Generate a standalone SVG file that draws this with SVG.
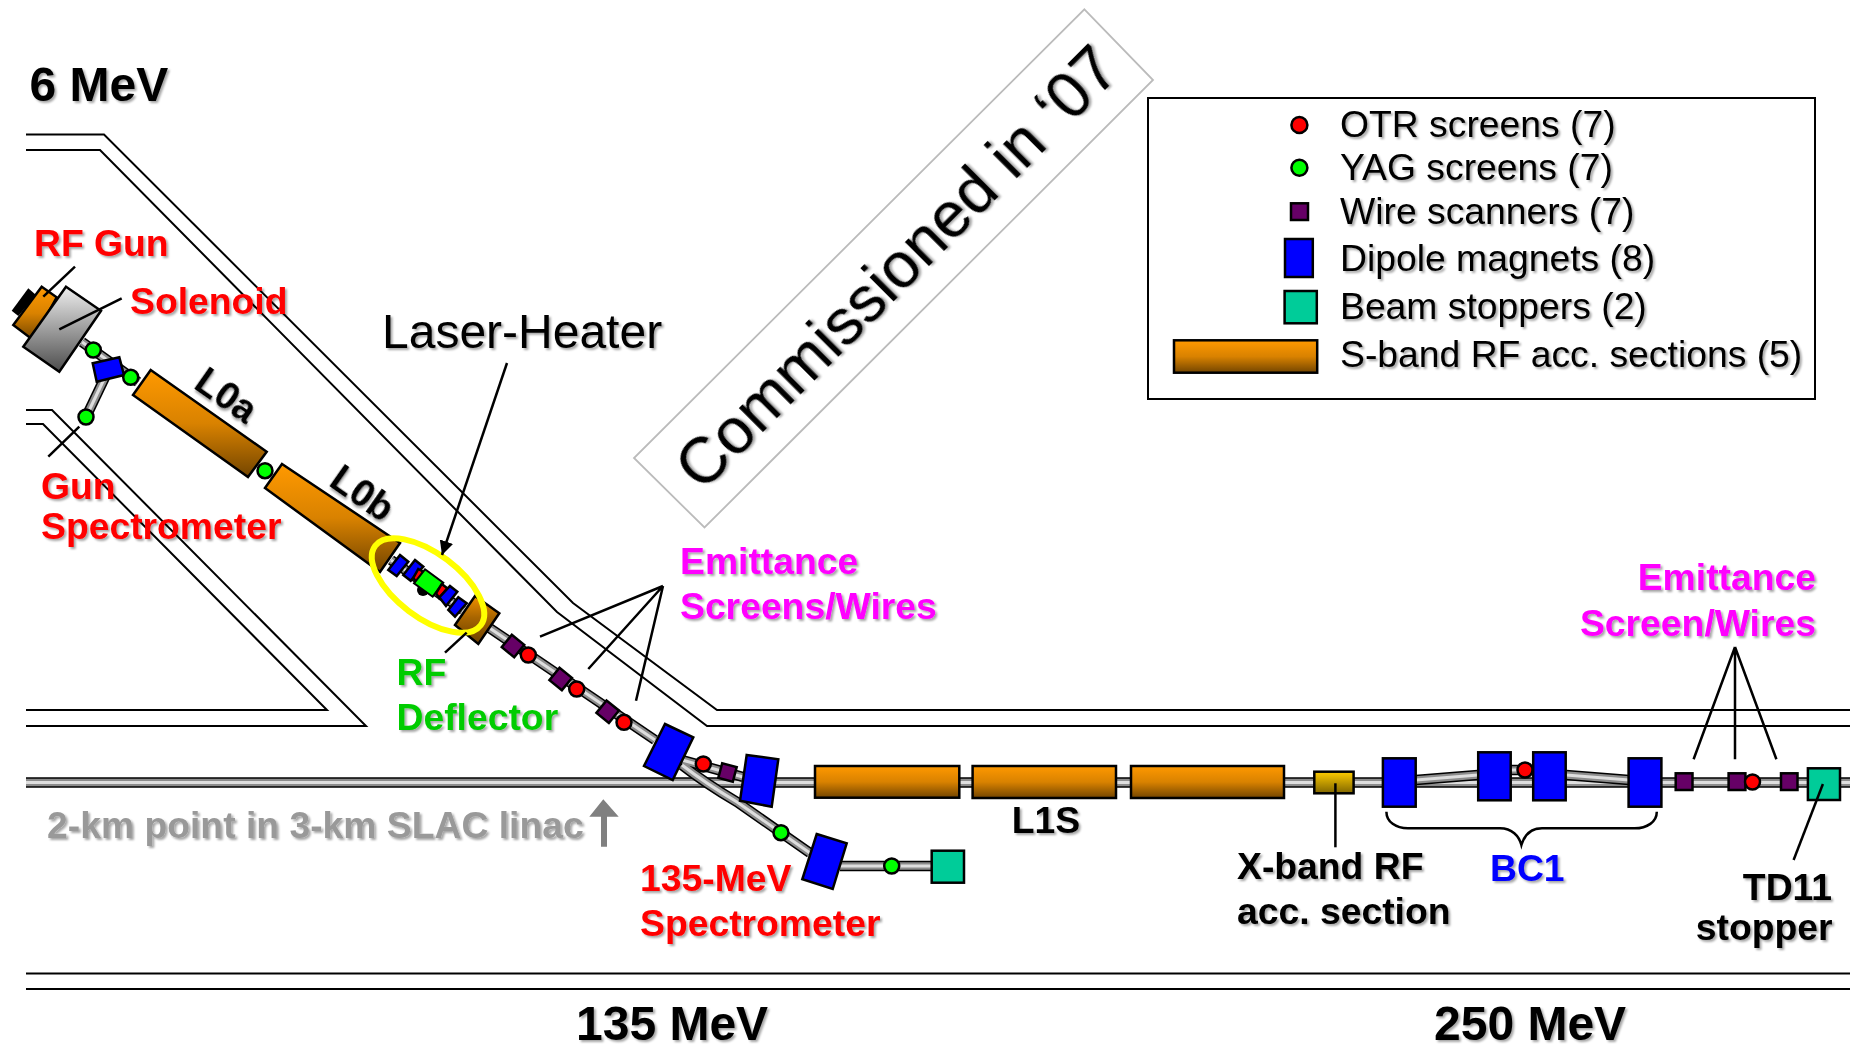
<svg xmlns="http://www.w3.org/2000/svg" xmlns:xlink="http://www.w3.org/1999/xlink" width="1850" height="1047" viewBox="0 0 1850 1047">
<style>
text{font-family:"Liberation Sans",Arial,sans-serif;filter:url(#sh)}
.b{font-weight:bold;font-size:37.300px}
.big{font-weight:bold;font-size:48px;fill:#000}
.l0{font-weight:bold;font-size:38px;fill:#000}
.lg{font-size:37.300px;fill:#000}
.red{fill:#f00}.mag{fill:#f0f}.grn{fill:#0c0}.blu{fill:#00f}.blk{fill:#000}
.wall{fill:none;stroke:#000;stroke-width:2}
.ptr{fill:none;stroke:#000;stroke-width:2.500}
.s{stroke:#000;stroke-width:2.500}
.o{fill:url(#og);stroke:#000;stroke-width:2.500}
.d{fill:#00f;stroke:#000;stroke-width:2.500}
.w{fill:#660066;stroke:#000;stroke-width:2.500}
.rc{fill:#f00;stroke:#000;stroke-width:2.500}
.gc{fill:#0f0;stroke:#000;stroke-width:2.500}
.st{fill:#00cc99;stroke:#000;stroke-width:2.500}
.p1{fill:none;stroke:#000;stroke-width:10.500}
.p2{fill:none;stroke:#8c8c8c;stroke-width:7.500}
.p3{fill:none;stroke:#dedede;stroke-width:3}
</style>
<defs>
<linearGradient id="og" x1="0" y1="0" x2="0" y2="1"><stop offset="0" stop-color="#ff9900"/><stop offset="0.5" stop-color="#d98200"/><stop offset="1" stop-color="#734500"/></linearGradient>
<linearGradient id="og2" x1="0" y1="0" x2="0" y2="1"><stop offset="0" stop-color="#f09000"/><stop offset="0.45" stop-color="#a86500"/><stop offset="1" stop-color="#6b4000"/></linearGradient>
<linearGradient id="yg" x1="0" y1="0" x2="0" y2="1"><stop offset="0" stop-color="#ffcc00"/><stop offset="1" stop-color="#806600"/></linearGradient>
<linearGradient id="sg" x1="0" y1="0" x2="0" y2="1"><stop offset="0" stop-color="#eeeeee"/><stop offset="1" stop-color="#4d4d4d"/></linearGradient>
<filter id="sh" x="-5%" y="-20%" width="110%" height="140%"><feDropShadow dx="2" dy="2" stdDeviation="0.8" flood-color="#000" flood-opacity="0.35"/></filter>
<marker id="ah" viewBox="0 0 10 10" refX="10" refY="5" markerWidth="14" markerHeight="14" markerUnits="userSpaceOnUse" orient="auto"><path d="M0 0L10 5L0 10z" fill="#000"/></marker>
<g id="mainpipes">
<path d="M82 342L138 382"/><path d="M107 373L86 417"/>
<path d="M391 560L463 610"/><path d="M488 627L655 740"/>
<path d="M682 760L743 777"/>
<path d="M682 765Q705 783 737 802L810 853"/>
<path d="M840 866H932"/>
<path d="M1416 780L1478 775"/><path d="M1511 770H1533"/><path d="M1566 775L1629 780"/>
</g>
<path id="hpipe" d="M26 782.500H1850"/>
</defs>
<rect width="1850" height="1047" fill="#fff"/>

<g id="walls">
<path class="wall" d="M26 134.500H104L573 603L717 710H1850"/>
<path class="wall" d="M26 150H100L557 612L707 726H1850"/>
<path class="wall" d="M26 410H52L366 726H26"/>
<path class="wall" d="M26 424H43L327 710H26"/>
<path class="wall" d="M26 973.500H1850"/>
<path class="wall" d="M26 989H1850"/>
</g>

<g id="beampipes">
<use xlink:href="#hpipe" class="p1"/><use xlink:href="#hpipe" class="p2"/><use xlink:href="#hpipe" class="p3"/>
<use xlink:href="#mainpipes" class="p1"/><use xlink:href="#mainpipes" class="p2"/><use xlink:href="#mainpipes" class="p3"/>
</g>

<g id="commissioned">
<polygon points="1084.400,9.400 1153,80 704.500,527.500 634,458" fill="#fff" stroke="#bbb" stroke-width="1.800"/>
<text transform="translate(702 493) rotate(-45)" font-size="64" fill="#000">Commissioned in ‘07</text>
</g>

<g id="rf-gun">
<polygon points="28.300,288.300 36,295 18.300,316 11.700,310.700" fill="#000"/>
<polygon class="o" points="41.700,286.700 56.700,297.300 33,340 13.300,325"/>
<text class="b red" x="34" y="256">RF Gun</text>
</g>
<g id="solenoid">
<polygon class="s" fill="url(#sg)" points="66,286.700 101,310.700 59.300,371.700 23.300,346.700"/>
<text class="b red" x="130" y="314">Solenoid</text>
</g>
<g id="yag-1"><circle class="gc" cx="93.300" cy="350" r="7.500"/></g>
<g id="gun-dipole"><polygon class="d" points="92.700,363.300 119.300,357.300 124,375 96.700,381.700"/></g>
<g id="yag-2"><circle class="gc" cx="130.700" cy="377.300" r="7.500"/></g>
<g id="yag-3"><circle class="gc" cx="86" cy="417" r="7.500"/></g>
<g id="gun-spectrometer-label"><text class="b red" x="41" y="499">Gun</text><text class="b red" x="41" y="539">Spectrometer</text></g>

<g id="l0a">
<polygon class="o" points="150.700,370 266.700,451.700 248,477 133,395"/>
<text class="l0" transform="translate(219 406) rotate(35)" text-anchor="middle">L0a</text>
</g>
<g id="yag-4"><circle class="gc" cx="265" cy="470.700" r="7.500"/></g>
<g id="l0b">
<polygon class="o" points="282,464 400,543 380,572 265,488"/>
<text class="l0" transform="translate(355 504) rotate(35)" text-anchor="middle">L0b</text>
</g>

<g id="rf-deflector">
<polygon points="475,596 499.300,613.300 478.300,644 455,625" fill="url(#og2)" stroke="#000" stroke-width="2.500"/>
<text class="b grn" x="396.500" y="685">RF</text><text class="b grn" x="396.500" y="730">Deflector</text>
</g>
<g id="laser-heater">
<polygon class="d" points="400,555 408.300,561.700 396.700,576 388.300,570"/>
<polygon class="d" points="415,560 423.300,566.700 410.700,580.700 403.300,575"/>
<polygon class="rc" points="418.300,569 423.300,571.700 417,582.700 413.300,578"/>
<circle cx="423" cy="590" r="6" fill="#000"/>
<polygon points="425,569.300 443.300,582.700 432.700,596.700 414,583.300" fill="#0f0" stroke="#000" stroke-width="2"/>
<polygon class="rc" points="441.700,584 447.300,588.300 439.300,598.300 436,593.300"/>
<polygon class="d" points="450,586 457.300,591.700 446,606 439.300,597.300"/>
<polygon class="d" points="458.300,597.300 466.700,603.300 455,616.700 448.300,610"/>
<ellipse cx="428" cy="585.500" rx="66" ry="32" transform="rotate(37 428 585.500)" fill="none" stroke="#ff0" stroke-width="6"/>
<text x="382" y="348" font-size="48" fill="#000">Laser-Heater</text>
</g>

<g id="w1"><rect class="w" x="505" y="638" width="16" height="16" transform="rotate(39 513 646)"/></g>
<g id="r1"><circle class="rc" cx="528.300" cy="655" r="7.500"/></g>
<g id="w2"><rect class="w" x="552.700" y="671" width="16" height="16" transform="rotate(39 560.700 679)"/></g>
<g id="r2"><circle class="rc" cx="576.700" cy="689" r="7.500"/></g>
<g id="w3"><rect class="w" x="599.700" y="703.700" width="16" height="16" transform="rotate(39 607.700 711.700)"/></g>
<g id="r3"><circle class="rc" cx="624" cy="722.300" r="7.500"/></g>
<g id="emittance-label-1"><text class="b mag" x="680" y="574">Emittance</text><text class="b mag" x="680" y="619">Screens/Wires</text></g>

<g id="dipole-1"><polygon class="d" points="665,724 693.300,737.300 672.700,780 644,766"/></g>
<g id="r4"><circle class="rc" cx="703.300" cy="764" r="7.500"/></g>
<g id="w4"><rect class="w" x="720" y="765" width="15" height="15" transform="rotate(15 727.500 772.500)"/></g>
<g id="dipole-2"><polygon class="d" points="746.700,755 778.300,759.300 771.700,806.700 740,800.700"/></g>
<g id="yag-5"><circle class="gc" cx="781" cy="832.700" r="7.500"/></g>
<g id="dipole-3"><polygon class="d" points="816.700,834 846.700,843.300 832.700,889 802.300,879.300"/></g>
<g id="yag-6"><circle class="gc" cx="891.700" cy="866" r="7.500"/></g>
<g id="stopper-1"><rect class="st" x="931.700" y="850.700" width="32.300" height="32"/></g>
<g id="spectrometer-label"><text class="b red" x="640" y="891">135-MeV</text><text class="b red" x="640" y="936">Spectrometer</text></g>

<g id="l1s-1"><rect class="o" x="815" y="766" width="144.300" height="31.700"/></g>
<g id="l1s-2"><rect class="o" x="972.600" y="766" width="143.400" height="32"/></g>
<g id="l1s-3"><rect class="o" x="1131" y="766" width="153" height="32"/></g>
<text id="l1s-label" class="b blk" x="1046" y="833" text-anchor="middle">L1S</text>

<g id="x-band"><rect x="1314.300" y="771.700" width="39.300" height="21.600" fill="url(#yg)" stroke="#000" stroke-width="2.500"/>
<text class="b blk" x="1237" y="879">X-band RF</text><text class="b blk" x="1237" y="924">acc. section</text></g>

<g id="bc1-d1"><rect class="d" x="1382.900" y="758.300" width="32.800" height="48.400"/></g>
<g id="bc1-d2"><rect class="d" x="1478.200" y="752.300" width="32.500" height="48"/></g>
<g id="bc1-r"><circle class="rc" cx="1525" cy="770" r="7.500"/></g>
<g id="bc1-d3"><rect class="d" x="1533.200" y="752.300" width="32.500" height="48"/></g>
<g id="bc1-d4"><rect class="d" x="1628.600" y="758.300" width="32.800" height="48.400"/></g>
<g id="bc1-label"><text class="b blu" x="1490" y="881">BC1</text></g>

<g id="w5"><rect class="w" x="1675.700" y="773.300" width="16.800" height="16.700"/></g>
<g id="w6"><rect class="w" x="1728.600" y="773.300" width="16.800" height="16.700"/></g>
<g id="r5"><circle class="rc" cx="1752.500" cy="782" r="7.500"/></g>
<g id="w7"><rect class="w" x="1781" y="773.300" width="16.500" height="16.700"/></g>
<g id="td11"><rect class="st" x="1807.900" y="768.300" width="32.100" height="31.700"/>
<text class="b blk" x="1832" y="900" text-anchor="end">TD11</text><text class="b blk" x="1832.500" y="940" text-anchor="end">stopper</text></g>
<g id="emittance-label-2"><text class="b mag" x="1816" y="590" text-anchor="end">Emittance</text><text class="b mag" x="1816" y="636" text-anchor="end">Screen/Wires</text></g>

<g id="connectors">
<path class="ptr" d="M75 266.700L43.300 296.700"/>
<path class="ptr" d="M121.700 298.300L59.300 329.300"/>
<path class="ptr" d="M79.300 426.700L48.300 456.700"/>
<path class="ptr" d="M507 363L442 555" marker-end="url(#ah)"/>
<path class="ptr" d="M466.700 632.700L445 652.700"/>
<path class="ptr" d="M663 586L540 636.700M663 586L588.300 669M663 586L636 700.700"/>
<path class="ptr" d="M1735 647L1693.600 759.300M1735 647V759.300M1735 647L1776.400 759.300"/>
<path class="ptr" d="M1335.400 783.300V847.300"/>
<path class="ptr" d="M1822.900 784L1793.600 860"/>
<path class="ptr" d="M1386.400 811.700C1386.400 822 1396 828.300 1408 828.300H1500C1512 828.300 1519 836 1521.400 845C1524 836 1530 828.300 1542 828.300H1634.600C1647 828.300 1656.800 822 1656.800 811.700"/>
<polygon points="603.300,799.300 618.700,816.700 607,816.700 607,846.700 601,846.700 601,816.700 589.300,816.700" fill="#808080"/>
</g>

<g id="energy-labels">
<text class="big" x="29.500" y="101">6 MeV</text>
<text class="big" x="576" y="1040">135 MeV</text>
<text class="big" x="1434" y="1040">250 MeV</text>
<text class="b" x="47" y="838" fill="#999">2-km point in 3-km SLAC linac</text>
</g>

<g id="legend">
<rect x="1148" y="98" width="667" height="301" fill="none" stroke="#000" stroke-width="2"/>
<circle class="rc" cx="1299.400" cy="125" r="8"/><text class="lg" x="1340" y="137">OTR screens (7)</text>
<circle class="gc" cx="1299.400" cy="167.700" r="8"/><text class="lg" x="1340" y="180">YAG screens (7)</text>
<rect class="w" x="1291" y="203.300" width="17" height="16.700"/><text class="lg" x="1340" y="224">Wire scanners (7)</text>
<rect class="d" x="1285" y="239" width="27.800" height="38"/><text class="lg" x="1340" y="271">Dipole magnets (8)</text>
<rect class="st" x="1284.600" y="291" width="32.200" height="32.300"/><text class="lg" x="1340" y="319">Beam stoppers (2)</text>
<rect class="o" x="1174" y="340.300" width="143.200" height="32.400"/><text class="lg" x="1340" y="367">S-band RF acc. sections (5)</text>
</g>
</svg>
